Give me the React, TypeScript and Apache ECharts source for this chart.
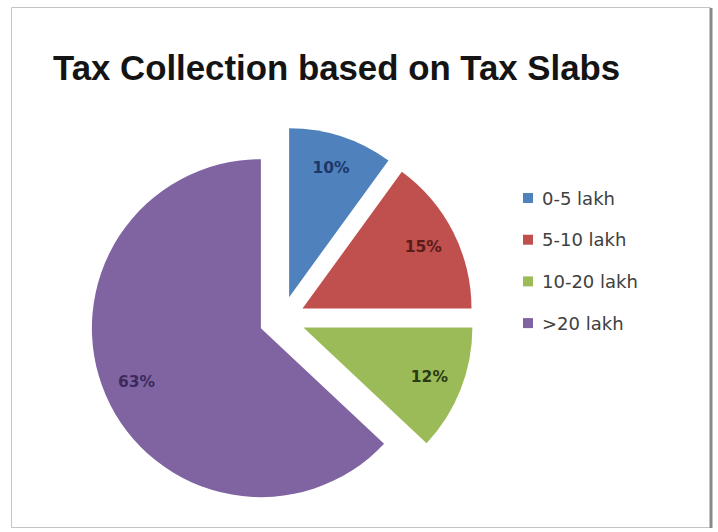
import React, { useEffect, useRef } from "react";
import * as echarts from "echarts";

const categories = ["0-5 lakh", "5-10 lakh", "10-20 lakh", ">20 lakh"];
const values = [10, 15, 12, 63];
const sliceColors = ["#4F81BD", "#C0504D", "#9BBB59", "#8064A2"];
const labelColors = ["#1d3868", "#5a1b19", "#2a3a12", "#3c2a5c"];
const titleText = "Tax Collection based on Tax Slabs";

export default function App() {
  const ref = useRef<HTMLDivElement>(null);
  useEffect(() => {
    if (!ref.current) return;
    const chart = echarts.init(ref.current, undefined, { renderer: "svg" });
    const center = [282, 319];
    const mainData = categories.map((name, i) => ({
      name,
      value: values[i],
      selected: true,
      itemStyle: { color: sliceColors[i] },
    }));
    const labelData = categories.map((name, i) => ({
      name,
      value: values[i],
      selected: true,
      itemStyle: { color: "rgba(0,0,0,0)" },
      label: { color: labelColors[i] },
    }));
    chart.setOption({
      animation: false,
      backgroundColor: "#ffffff",
      graphic: [
        {
          type: "rect",
          shape: { x: 11.5, y: 7.5, width: 699, height: 520 },
          style: { fill: "#ffffff", stroke: "#c4c4c4", lineWidth: 1 },
          z: -10,
        },
        {
          type: "line",
          shape: { x1: 711, y1: 8, x2: 711, y2: 528 },
          style: { stroke: "#8a8a8a", lineWidth: 3 },
          z: -9,
        },
      ],
      title: {
        text: titleText,
        left: 48,
        top: 45,
        textStyle: {
          fontFamily: "Liberation Sans",
          fontWeight: "bold",
          fontSize: 34.8,
          color: "#141414",
        },
      },
      legend: {
        orient: "vertical",
        left: 518,
        top: 183,
        icon: "rect",
        itemWidth: 10,
        itemHeight: 10,
        itemGap: 21.7,
        selectedMode: false,
        data: categories,
        textStyle: {
          fontFamily: "DejaVu Sans",
          fontSize: 18,
          lineHeight: 20,
          color: "#404040",
          padding: [0, 0, 0, 4],
        },
      },
      series: [
        {
          type: "pie",
          center,
          radius: [0, 169],
          startAngle: 90,
          clockwise: true,
          selectedMode: "multiple",
          selectedOffset: 23,
          silent: true,
          label: { show: false },
          labelLine: { show: false },
          data: mainData,
        },
        {
          type: "pie",
          center,
          radius: [96, 169],
          startAngle: 90,
          clockwise: true,
          selectedMode: "multiple",
          selectedOffset: 23,
          silent: true,
          label: {
            show: true,
            position: "inside",
            formatter: "{c}%",
            fontFamily: "DejaVu Sans",
            fontWeight: "bold",
            fontSize: 15.5,
          },
          labelLine: { show: false },
          data: labelData,
        },
      ],
    });
    return () => chart.dispose();
  }, []);
  return (
    <div
      ref={ref}
      style={{ position: "fixed", left: 0, top: 0, width: 718, height: 532 }}
    />
  );
}
